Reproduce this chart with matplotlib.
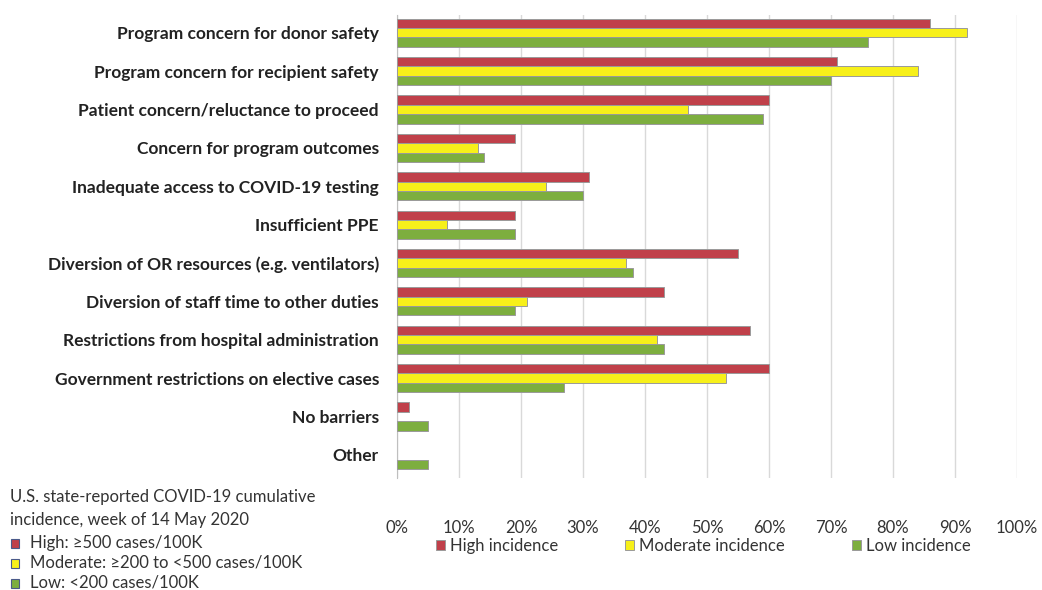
import matplotlib
matplotlib.use("Agg")
import matplotlib.pyplot as plt
from matplotlib.patches import Rectangle
import numpy as np

plt.rcParams['font.family'] = ['Lato', 'DejaVu Sans']

categories = [
    "Program concern for donor safety",
    "Program concern for recipient safety",
    "Patient concern/reluctance to proceed",
    "Concern for program outcomes",
    "Inadequate access to COVID-19 testing",
    "Insufficient PPE",
    "Diversion of OR resources (e.g. ventilators)",
    "Diversion of staff time to other duties",
    "Restrictions from hospital administration",
    "Government restrictions on elective cases",
    "No barriers",
    "Other",
]
high = [86, 71, 60, 19, 31, 19, 55, 43, 57, 60, 2, 0]
moderate = [92, 84, 47, 13, 24, 8, 37, 21, 42, 53, 0, 0]
low = [76, 70, 59, 14, 30, 19, 38, 19, 43, 27, 5, 5]
xticks = list(range(0, 101, 10))
series_names = ["High incidence", "Moderate incidence", "Low incidence"]
key_lines = ["High: \u2265500 cases/100K",
             "Moderate: \u2265200 to <500 cases/100K",
             "Low: <200 cases/100K"]

red = "#C0404A"
yellow = "#F7F01A"
green = "#7DAE3F"
colors = [red, yellow, green]

fig = plt.figure(figsize=(10.42, 5.9), dpi=100)
ax = fig.add_axes([0.381, 0.19, 0.595, 0.785])

y = np.arange(len(categories))
h = 0.245
for off, vals, c, name in zip([-h, 0, h], [high, moderate, low], colors, series_names):
    lw = [0.7 if v > 0 else 0 for v in vals]
    ax.barh(y + off, vals, height=h, color=c, edgecolor="#9a9a9a",
            linewidth=lw, label=name, zorder=3)

ax.set_xlim(0, 100)
ax.set_ylim(len(categories) - 0.4, -0.47)
ax.set_xticks(xticks)
ax.set_xticklabels([f"{t}%" for t in xticks], fontsize=12, color="#333333")
ax.tick_params(axis="x", length=0, pad=30)
ax.set_yticks(y)
ax.set_yticklabels(categories, fontsize=12.5, fontweight="bold", color="#222222")
ax.tick_params(axis="y", length=0, pad=13)
ax.grid(axis="x", color="#d9d9d9", linewidth=1, zorder=0)
for s in ["top", "right", "bottom"]:
    ax.spines[s].set_visible(False)
ax.spines["left"].set_color("#bfbfbf")

leg = fig.legend(loc="center", bbox_to_anchor=(0.675, 0.074), ncol=3, frameon=False,
                 fontsize=12, handlelength=0.55, handleheight=0.55, handletextpad=0.3,
                 columnspacing=4.0)
for t in leg.get_texts():
    t.set_color("#333333")

fig.text(0.01, 0.158, "U.S. state-reported COVID-19 cumulative", fontsize=12,
         color="#333333", va="center")
fig.text(0.01, 0.119, "incidence, week of 14 May 2020", fontsize=12,
         color="#333333", va="center")
for i, (txt, c) in enumerate(zip(key_lines, colors)):
    yy = 0.080 - i * 0.034
    fig.add_artist(Rectangle((0.011, yy - 0.009), 0.0075, 0.016, transform=fig.transFigure,
                             facecolor=c, edgecolor="#4a5a8a", linewidth=0.8))
    fig.text(0.029, yy, txt, fontsize=12, color="#333333", va="center")

fig.savefig("out.png", dpi=100)
